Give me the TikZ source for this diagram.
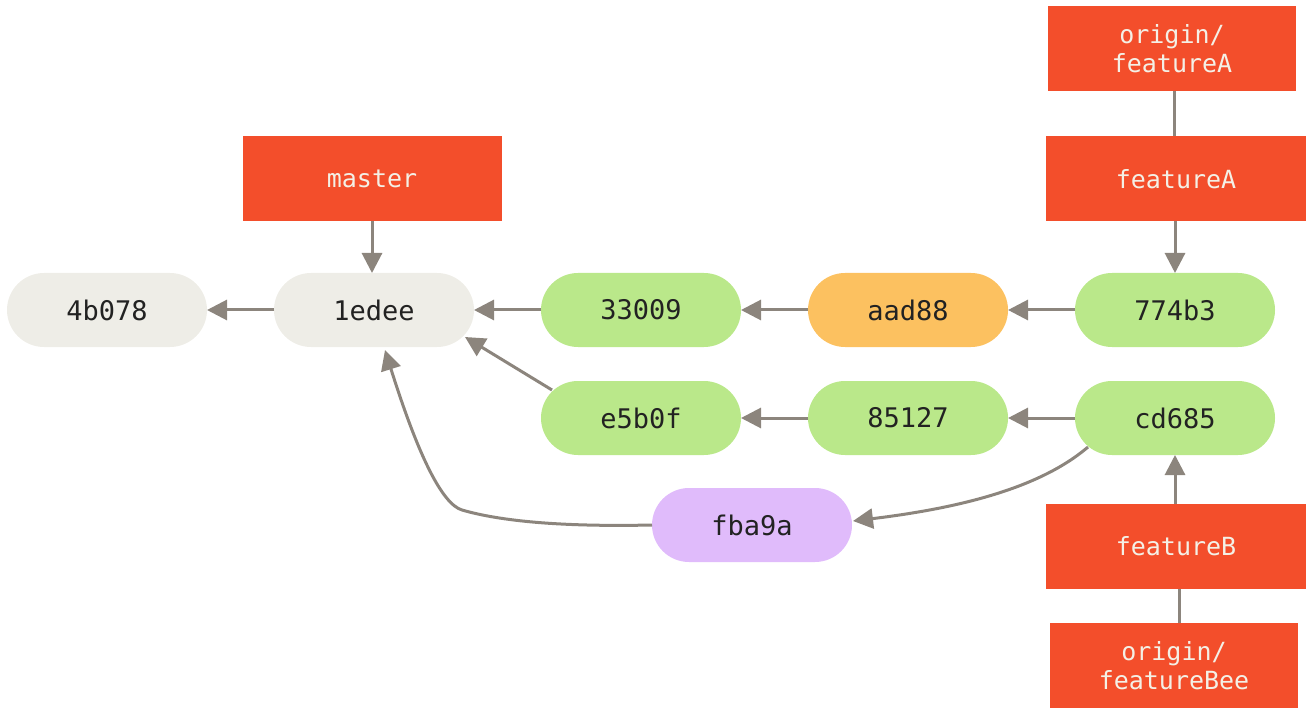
\documentclass[tikz,border=0pt]{standalone}
\usepackage{fontspec}
\setmonofont{DejaVu Sans Mono}
\usetikzlibrary{arrows.meta,calc}
\definecolor{refred}{HTML}{F34E2B}
\definecolor{reftext}{HTML}{F4F0E6}
\definecolor{cgreen}{HTML}{BAE88A}
\definecolor{corange}{HTML}{FCC160}
\definecolor{cpurple}{HTML}{E0BBFB}
\definecolor{cgray}{HTML}{EEEDE7}
\definecolor{arrowgray}{HTML}{8C857D}
\definecolor{ink}{HTML}{222222}
\tikzset{
  commit/.style={rectangle, rounded corners=37pt, minimum width=200pt, minimum height=74pt,
    inner sep=0pt, outer sep=0pt, text=ink, font=\ttfamily\fontsize{27}{32}\selectfont},
  branchlbl/.style={rectangle, fill=refred, minimum width=260pt, minimum height=85pt,
    inner sep=0pt, outer sep=0pt, text=reftext, align=center,
    font=\ttfamily\fontsize{25}{29}\selectfont},
  arr/.style={draw=arrowgray, line width=3pt, -{Triangle[length=20pt,width=20pt]}},
  plainline/.style={draw=arrowgray, line width=3pt},
}
\begin{document}
\begin{tikzpicture}[x=1pt,y=-1pt]
\useasboundingbox (0,0) rectangle (1308,708);
% commits
\node[commit, fill=cgray]   (4b078) at (107,310) {4b078};
\node[commit, fill=cgray]   (1edee) at (374,310) {1edee};
\node[commit, fill=cgreen]  (33009) at (641,310) {33009};
\node[commit, fill=corange] (aad88) at (908,310) {aad88};
\node[commit, fill=cgreen]  (774b3) at (1175,310) {774b3};
\node[commit, fill=cgreen]  (e5b0f) at (641,418) {e5b0f};
\node[commit, fill=cgreen]  (85127) at (908,418) {85127};
\node[commit, fill=cgreen]  (cd685) at (1175,418) {cd685};
\node[commit, fill=cpurple] (fba9a) at (752,525) {fba9a};
% branch labels
\node[branchlbl, minimum width=259pt] (master) at (372,179) {master};
\node[branchlbl] (featureA) at (1176,179) {featureA};
\node[branchlbl, minimum width=248pt] (ofeatureA) at (1172,48.5) {origin/\\featureA};
\node[branchlbl] (featureB) at (1176,546) {featureB};
\node[branchlbl, minimum width=248pt] (ofeatureB) at (1174,665.5) {origin/\\featureBee};
% helper coordinates on node borders
\coordinate (e5out) at ($(e5b0f.center)+(-89,-28)$);
\coordinate (edin)  at ($(1edee.center)+(91,27)$);
\coordinate (edbot) at ($(1edee.center)+(11,40)$);
\coordinate (cdout) at ($(cd685.center)+(-87,29)$);
\coordinate (fbin)  at ($(fba9a.east)+(1,-4)$);
\coordinate (bend)  at (462,510);
% connectors
\draw[arr] (1edee.west) -- (4b078.east);
\draw[arr] (33009.west) -- (1edee.east);
\draw[arr] (aad88.west) -- (33009.east);
\draw[arr] (774b3.west) -- (aad88.east);
\draw[arr] (85127.west) -- (e5b0f.east);
\draw[arr] (cd685.west) -- (85127.east);
\draw[arr] (e5out) -- (edin);
\draw[arr] (fba9a.west) .. controls (560,527) and (500,521) .. (bend)
  .. controls (442,504) and (418,455) .. (edbot);
\draw[arr] (cdout) .. controls (1040,488) and (960,508) .. (fbin);
\draw[arr] (master.south) -- (master.south |- 1edee.north);
\draw[arr] (featureA.south -| 774b3.north) -- (774b3.north);
\draw[plainline] (ofeatureA.south -| 1174,0) -- (featureA.north -| 1174,0);
\draw[arr] (featureB.north -| cd685.south) -- (cd685.south);
\draw[plainline] (featureB.south -| 1179,0) -- (ofeatureB.north -| 1179,0);
\end{tikzpicture}
\end{document}
